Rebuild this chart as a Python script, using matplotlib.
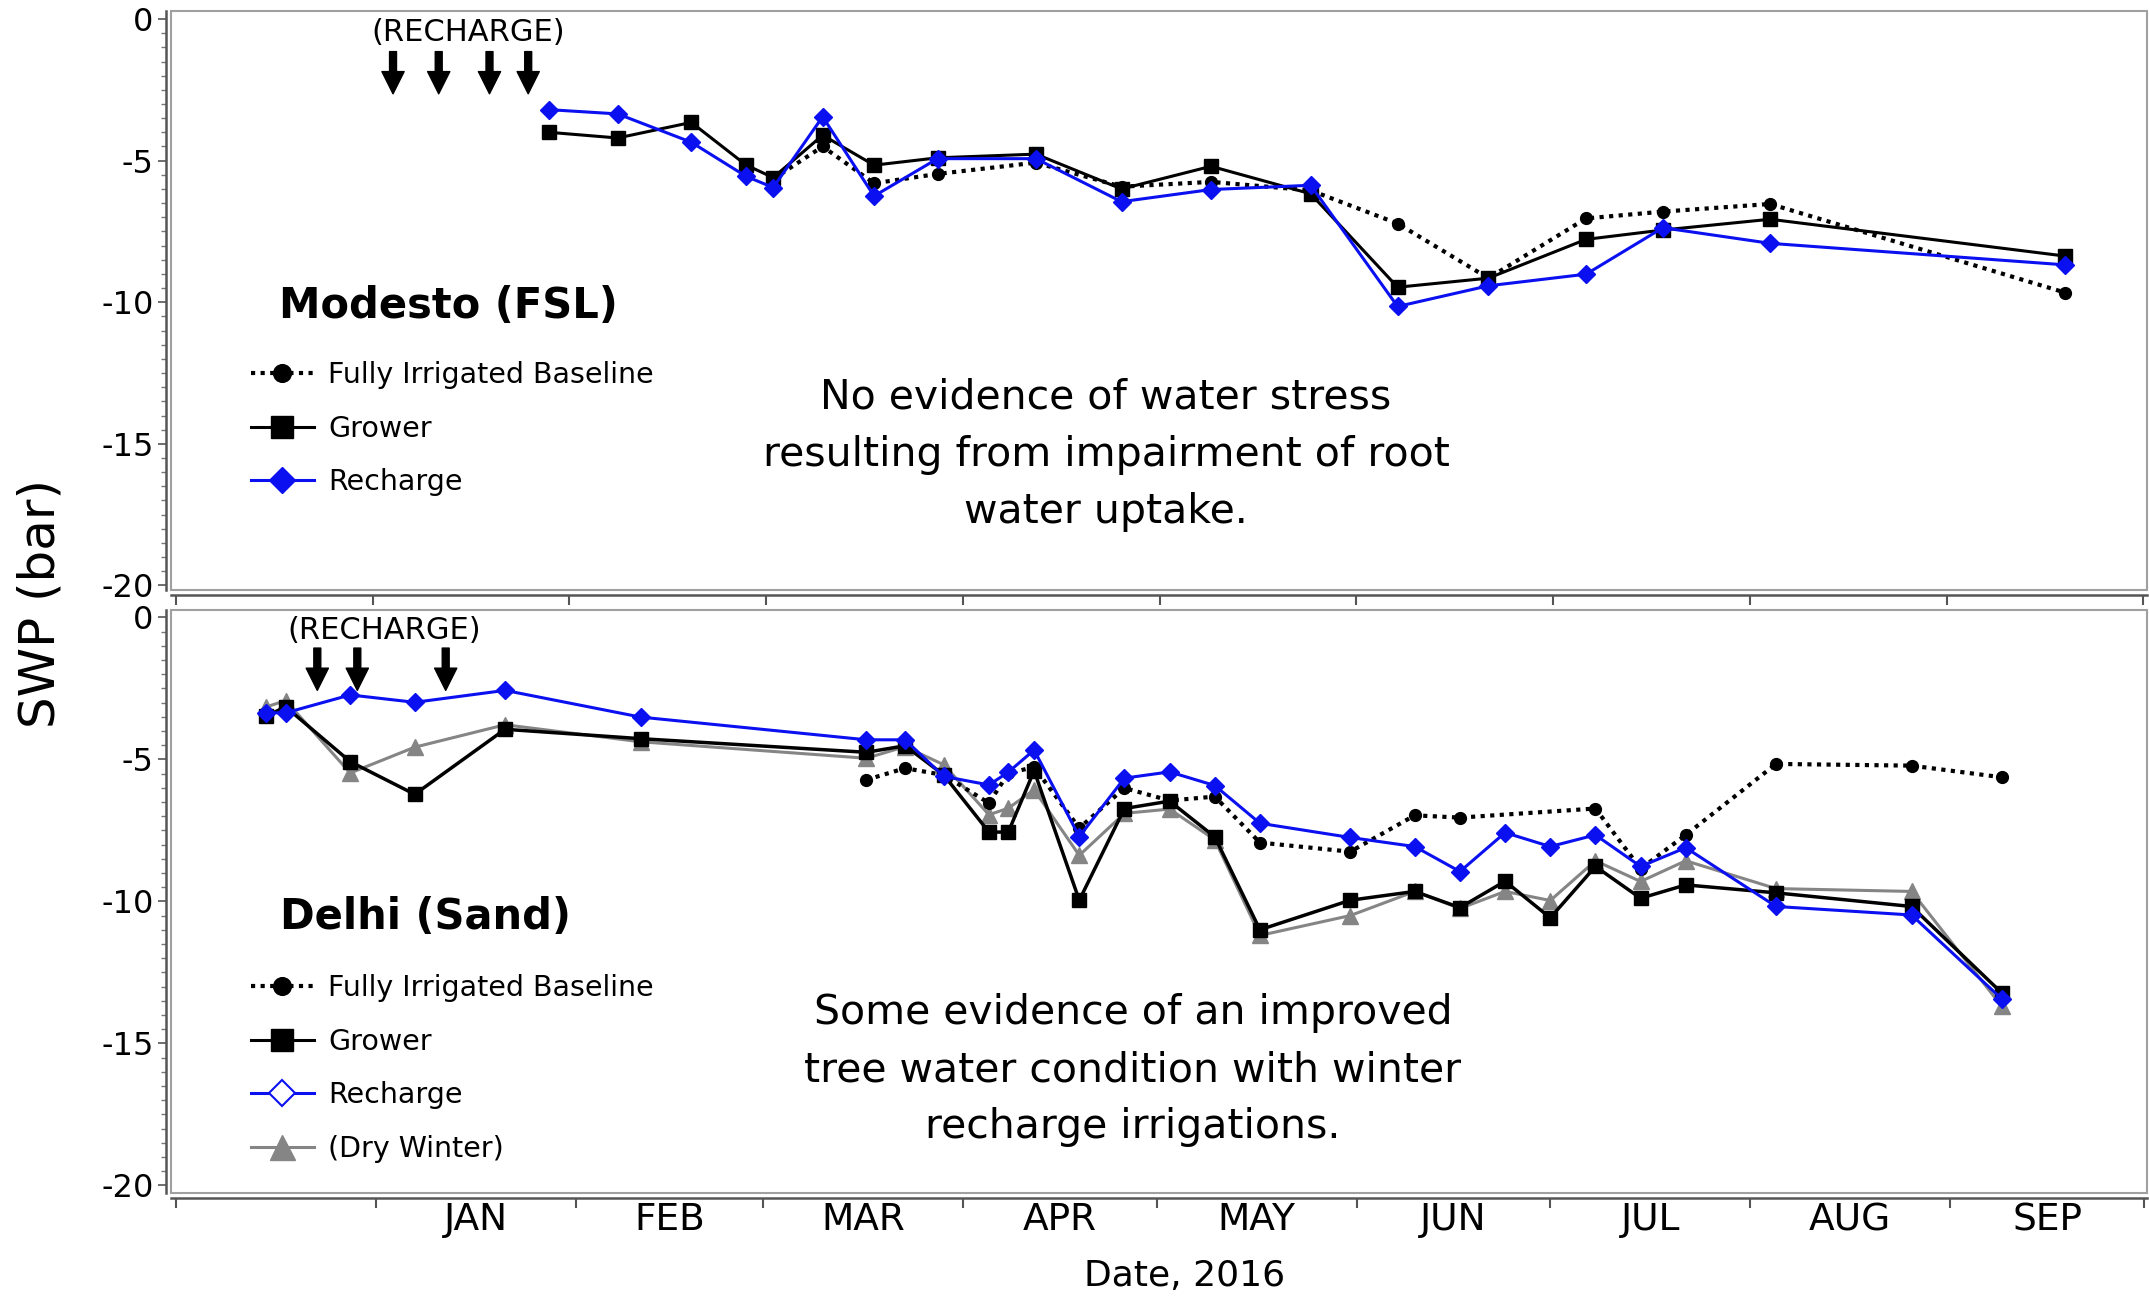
import numpy as np
import matplotlib
matplotlib.use('Agg')
import matplotlib.pyplot as plt
from matplotlib.patches import Rectangle
from matplotlib.lines import Line2D

plt.rcParams['axes.unicode_minus'] = False

# x values are days after 1 Dec 2015, y values are SWP in bar

# Modesto (FSL)
top_days = [58.8, 69.6, 81.2, 89.8, 94.1, 101.9, 110.0, 120.0, 135.5, 149.0,
            163.1, 178.8, 192.5, 206.8, 222.2, 234.3, 251.2, 297.7]
top_grower = [-4.0, -4.2, -3.65, -5.15, -5.6, -4.1, -5.16, -4.9, -4.77, -6.0,
              -5.2, -6.17, -9.47, -9.15, -7.78, -7.45, -7.07, -8.37]
top_recharge = [-3.2, -3.35, -4.35, -5.55, -5.95, -3.45, -6.25, -4.93, -4.93, -6.45,
                -6.02, -5.87, -10.15, -9.42, -9.01, -7.37, -7.92, -8.68]
top_base_days = [94.1, 101.9, 110.0, 120.0, 135.5, 149.0, 163.1, 178.8, 192.5,
                 206.8, 222.2, 234.3, 251.2, 297.7]
top_baseline = [-5.65, -4.5, -5.8, -5.47, -5.07, -5.92, -5.75, -6.05, -7.22,
                -9.15, -7.04, -6.8, -6.53, -9.66]
top_irrigations = [34.2, 41.4, 49.4, 55.5]

# Delhi (Sand)
bot_days = [14, 17, 27, 37, 51, 72, 107, 113, 119, 126, 129, 133, 140, 147,
            154, 161, 168, 182, 192, 199, 206, 213, 220, 227, 234, 248, 269, 283]
bot_grower = [-3.47, -3.15, -5.08, -6.23, -3.94, -4.27, -4.75, -4.52, -5.55, -7.56,
              -7.56, -5.40, -9.96, -6.73, -6.47, -7.73, -11.0, -9.96, -9.65, -10.22,
              -9.29, -10.58, -8.77, -9.89, -9.42, -9.70, -10.18, -13.23]
bot_recharge = [-3.36, -3.36, -2.73, -2.99, -2.57, -3.51, -4.31, -4.31, -5.60, -5.90,
                -5.45, -4.67, -7.72, -5.66, -5.44, -5.92, -7.25, -7.75, -8.07, -8.95,
                -7.58, -8.07, -7.66, -8.77, -8.11, -10.18, -10.48, -13.44]
bot_dry = [-3.15, -2.93, -5.48, -4.57, -3.78, -4.38, -4.96, -4.55, -5.19, -6.95,
           -6.72, -6.07, -8.38, -6.90, -6.75, -7.83, -11.2, -10.5, -9.65, -10.25,
           -9.65, -9.97, -8.57, -9.30, -8.57, -9.55, -9.65, -13.70]
bot_base_days = [107, 113, 119, 126, 129, 133, 140, 147, 154, 161, 168, 182,
                 192, 199, 220, 227, 234, 248, 269, 283]
bot_baseline = [-5.72, -5.31, -5.55, -6.54, -5.49, -5.27, -7.42, -6.01, -6.45, -6.31,
                -7.93, -8.25, -6.97, -7.05, -6.73, -8.85, -7.66, -5.16, -5.22, -5.63]
bot_irrigations = [21.9, 28.1, 41.8]

months = ['JAN', 'FEB', 'MAR', 'APR', 'MAY', 'JUN', 'JUL', 'AUG', 'SEP']
month_starts = [0, 31, 62, 91, 122, 152, 183, 213, 244, 275, 305]
top_ticks = [0, 31, 62, 93, 124, 155, 186, 217, 248, 279, 310]
y_ticks = [0, -5, -10, -15, -20]
y_labels = ['0', '-5', '-10', '-15', '-20']

BLUE = '#0a10f0'
GREY = '#858585'

fig = plt.figure(figsize=(21.49, 12.96), dpi=100)
ax1 = fig.add_axes([0.0798, 0.5448, 0.9193, 0.4464])
ax2 = fig.add_axes([0.0798, 0.0797, 0.9193, 0.4496])


def style(ax, xlim, ylim, xticks):
    ax.set_xlim(xlim)
    ax.set_ylim(ylim)
    for s in ['top', 'right']:
        ax.spines[s].set_visible(False)
    for s in ['left', 'bottom']:
        ax.spines[s].set_position(('outward', 4))
        ax.spines[s].set_color('#555555')
        ax.spines[s].set_linewidth(1.8)
    ax.add_patch(Rectangle((0, 0), 1, 1, transform=ax.transAxes, fill=False,
                           ec='#a0a0a0', lw=1.5, clip_on=False))
    ax.set_yticks(y_ticks)
    ax.set_yticklabels(y_labels)
    ax.set_yticks(np.arange(-20, 0.01, 0.5), minor=True)
    ax.set_xticks(xticks)
    ax.set_xticklabels([])
    ax.tick_params(axis='y', which='major', length=6, width=1.2, color='#555555',
                   labelsize=23, pad=3)
    ax.tick_params(axis='y', which='minor', length=3.5, width=1, color='#777777')
    ax.tick_params(axis='x', which='major', length=7, width=1.5, color='#555555')


style(ax1, (-0.71, 310.6), (-20.16, 0.27), top_ticks)
style(ax2, (-0.70, 305.5), (-20.26, 0.26), month_starts)

dots = (0, (1, 1.3))

# top panel
ax1.plot(top_days, top_grower, color='black', lw=2.2, marker='s', ms=10.5, zorder=3)
ax1.plot(top_base_days, top_baseline, color='black', lw=3, ls=dots, marker='o',
         ms=8.5, zorder=4)
ax1.plot(top_days, top_recharge, color=BLUE, lw=2.2, marker='D', ms=9, zorder=5)

# bottom panel
ax2.plot(bot_days, bot_dry, color=GREY, lw=2.2, marker='^', ms=12, zorder=2)
ax2.plot(bot_days, bot_grower, color='black', lw=2.5, marker='s', ms=10.5, zorder=3)
ax2.plot(bot_base_days, bot_baseline, color='black', lw=3, ls=dots, marker='o',
         ms=8.5, zorder=4)
ax2.plot(bot_days, bot_recharge, color=BLUE, lw=2.2, marker='D', ms=9, zorder=5)

# month labels centred between month ticks
mids = [(a + b) / 2 for a, b in zip(month_starts[1:-1], month_starts[2:])]
ax2.set_xticks(mids, minor=True)
ax2.set_xticklabels(months, minor=True)
ax2.tick_params(axis='x', which='minor', length=0, labelsize=27, pad=3)

# recharge irrigation arrows
arrow = dict(facecolor='black', edgecolor='black', width=5, headwidth=16,
             headlength=16, shrink=0)
for x in top_irrigations:
    ax1.annotate('', xy=(x, -2.64), xytext=(x, -1.15), arrowprops=arrow)
ax1.text(46.1, -0.47, '(RECHARGE)', ha='center', va='center', fontsize=22)
for x in bot_irrigations:
    ax2.annotate('', xy=(x, -2.57), xytext=(x, -1.08), arrowprops=arrow)
ax2.text(32.2, -0.45, '(RECHARGE)', ha='center', va='center', fontsize=22)

# legends
h_base = Line2D([], [], color='black', lw=3, ls=dots, marker='o', ms=8.5)
h_grow = Line2D([], [], color='black', lw=2.2, marker='s', ms=10.5)
h_rech = Line2D([], [], color=BLUE, lw=2.2, marker='D', ms=9)
h_rech_open = Line2D([], [], color=BLUE, lw=2.2, marker='D', ms=9, mfc='white',
                     mec=BLUE, mew=1.5)
h_dry = Line2D([], [], color=GREY, lw=2.2, marker='^', ms=12)

leg_kw = dict(loc='upper left', bbox_transform=fig.transFigure, frameon=False,
              borderpad=0, borderaxespad=0, handlelength=2.2, handletextpad=0.5,
              labelspacing=0.9, fontsize=20.5, markerscale=1.5)
ax1.legend([h_base, h_grow, h_rech],
           ['Fully Irrigated Baseline', 'Grower', 'Recharge'],
           bbox_to_anchor=(251 / 2149, 1 - 361 / 1296), **leg_kw)
ax2.legend([h_base, h_grow, h_rech_open, h_dry],
           ['Fully Irrigated Baseline', 'Grower', 'Recharge', '(Dry Winter)'],
           bbox_to_anchor=(251 / 2149, 1 - 974 / 1296), **leg_kw)

# panel titles and notes
fig.text(448 / 2149, 1 - 306 / 1296, 'Modesto (FSL)', ha='center', va='center',
         fontsize=30, fontweight='bold')
fig.text(426 / 2149, 1 - 917 / 1296, 'Delhi (Sand)', ha='center', va='center',
         fontsize=30, fontweight='bold')
fig.text(1106 / 2149, 1 - 455 / 1296,
         'No evidence of water stress\nresulting from impairment of root\nwater uptake.',
         ha='center', va='center', fontsize=29.5, linespacing=1.55)
fig.text(1133 / 2149, 1 - 1070 / 1296,
         'Some evidence of an improved\ntree water condition with winter\nrecharge irrigations.',
         ha='center', va='center', fontsize=29.5, linespacing=1.55)

fig.text(41 / 2149, 1 - 603 / 1296, 'SWP (bar)', rotation=90, ha='center',
         va='center', fontsize=36)
fig.text(1185 / 2149, 1 - 1276 / 1296, 'Date, 2016', ha='center', va='center',
         fontsize=26)

fig.savefig('out.png', dpi=100)
